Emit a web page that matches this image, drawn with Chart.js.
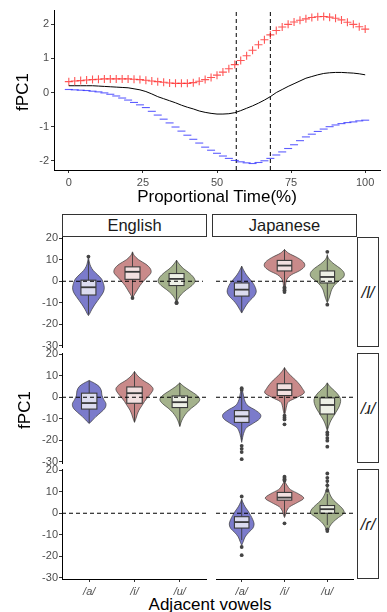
<!DOCTYPE html>
<html>
<head>
<meta charset="utf-8">
<script src="https://cdn.jsdelivr.net/npm/chart.js"></script>
<style>
  body { margin: 0; width: 387px; height: 612px; background: #fff; position: relative; overflow: hidden;
         font-family: "Liberation Sans", Arial, sans-serif; }
  canvas { position: absolute; }
  .strip { position: absolute; border: 1px solid #333; box-sizing: border-box; background: #fff;
           display: flex; align-items: center; justify-content: center; font-size: 16.5px; color: #1a1a1a; }
  .lab { position: absolute; font-size: 17px; line-height: 17px; color: #000; white-space: nowrap;
         transform: translate(-50%, -50%); }
</style>
</head>
<body>
<canvas id="top" width="387" height="200" style="left:0;top:0"></canvas>

<div class="lab" style="left:22px;top:92px;transform:translate(-50%,-50%) rotate(-90deg)">fPC1</div>
<div class="lab" style="left:217px;top:196px">Proportional Time(%)</div>

<div class="strip" style="left:62px;top:214px;width:145px;height:23px">English</div>
<div class="strip" style="left:212px;top:214px;width:145px;height:23px">Japanese</div>
<div class="strip" style="left:357px;top:237px;width:22px;height:110px;font-style:italic">/l/</div>
<div class="strip" style="left:357px;top:353px;width:22px;height:110px;font-style:italic">/ɹ/</div>
<div class="strip" style="left:357px;top:469px;width:22px;height:110px;font-style:italic">/ɾ/</div>

<div class="lab" style="left:24px;top:410px;transform:translate(-50%,-50%) rotate(-90deg)">fPC1</div>
<div class="lab" style="left:210px;top:604px">Adjacent vowels</div>

<script>
// ---------- top panel: fPC1 over proportional time ----------
const timeX = [0,2,4,6,8,10,12,14,16,18,20,22,24,26,28,30,32,34,36,38,40,42,44,46,48,50,
               52,54,56,58,60,62,64,66,68,70,72,74,76,78,80,82,84,86,88,90,92,94,96,98,100];
const meanCurve = [0.20,0.20,0.20,0.20,0.20,0.19,0.18,0.17,0.16,0.15,0.14,0.11,0.08,0.03,-0.04,-0.12,-0.18,
                   -0.24,-0.30,-0.37,-0.43,-0.48,-0.54,-0.58,-0.61,-0.63,-0.63,-0.62,-0.59,-0.53,-0.46,-0.39,
                   -0.31,-0.22,-0.12,0.00,0.09,0.18,0.26,0.34,0.42,0.47,0.52,0.56,0.58,0.59,0.59,0.58,0.57,0.55,0.52];
const plusCurve = [0.32,0.34,0.35,0.37,0.38,0.39,0.40,0.40,0.40,0.40,0.40,0.39,0.38,0.36,0.34,0.32,0.30,
                   0.28,0.27,0.27,0.27,0.29,0.33,0.38,0.44,0.51,0.60,0.70,0.82,0.94,1.08,1.24,1.40,1.55,
                   1.69,1.82,1.92,2.00,2.07,2.12,2.16,2.20,2.22,2.23,2.21,2.18,2.13,2.06,2.00,1.93,1.86];
const minusCurve = [0.09,0.08,0.07,0.06,0.04,0.02,-0.01,-0.05,-0.10,-0.16,-0.22,-0.29,-0.36,-0.44,-0.55,
                    -0.66,-0.78,-0.89,-1.01,-1.13,-1.25,-1.37,-1.48,-1.60,-1.69,-1.78,-1.86,-1.93,-1.99,
                    -2.03,-2.06,-2.08,-2.05,-2.00,-1.93,-1.83,-1.74,-1.64,-1.53,-1.41,-1.30,-1.22,-1.14,
                    -1.07,-1.00,-0.95,-0.91,-0.88,-0.86,-0.83,-0.81];
const boundaries = [56.5, 68];
const timeTicks = [0, 25, 50, 75, 100];
const fpcTicks = [-2, -1, 0, 1, 2];

// ---------- violin panels (y, half width) pairs, box stats, outliers ----------
const vowels = ["/a/", "/i/", "/u/"];
const fpcTicksBottom = [20, 10, 0, -10, -20, -30];

// English /l/
const engLShapes = [
  [[11.5,0],[9,0.02],[7,0.05],[5,0.11],[3,0.21],[1,0.3],[-1,0.34],[-3,0.36],[-5,0.34],[-7,0.28],[-9,0.21],[-11,0.14],[-13,0.08],[-15,0.03],[-16,0]],
  [[13.7,0],[12,0.04],[10,0.14],[8,0.3],[6,0.4],[4,0.42],[2,0.34],[0,0.25],[-2,0.17],[-4,0.11],[-6,0.05],[-7.8,0]],
  [[9.8,0],[8,0.06],[6,0.15],[4,0.28],[2,0.38],[0,0.42],[-2,0.35],[-4,0.22],[-6,0.11],[-8,0.04],[-10,0]]
];
const engLBoxes = [[-15.5,-6.4,-2.8,0.5,10], [-7,0.9,4.4,6.7,13.5], [-9.3,-2.0,1.1,3.6,9.8]];
const engLOutliers = [[11.5], [-7.8], [-9.8,-10.2]];

// Japanese /l/
const japLShapes = [
  [[7,0],[5,0.05],[3,0.11],[1,0.19],[-1,0.27],[-3,0.32],[-5,0.34],[-7,0.29],[-9,0.19],[-11,0.11],[-13,0.05],[-14.8,0]],
  [[14.8,0],[13,0.1],[11,0.3],[9,0.44],[7,0.47],[5,0.36],[3,0.16],[1,0.06],[-1,0.03],[-3,0.02],[-4.5,0]],
  [[12,0],[10,0.05],[8,0.16],[6,0.3],[4,0.39],[2,0.38],[0,0.26],[-2,0.16],[-4,0.1],[-6,0.07],[-8,0.04],[-10,0]]
];
const japLBoxes = [[-14.5,-6.9,-3.9,-0.8,7], [-2,4.8,7.3,9.7,14.8], [-9.5,-0.8,2.0,4.8,12.5]];
const japLOutliers = [[], [-2.8,-3.5,-4.2,-5], [13.7,-10.9]];

// English /ɹ/
const engRShapes = [
  [[7.8,0],[6.5,0.12],[5,0.22],[3,0.27],[1,0.28],[-1,0.32],[-3,0.37],[-5,0.35],[-7,0.26],[-9,0.15],[-11,0.06],[-12.2,0]],
  [[12,0],[10,0.07],[8,0.18],[6,0.33],[4,0.41],[2,0.37],[0,0.29],[-2,0.22],[-4,0.16],[-6,0.1],[-8,0.06],[-10,0.03],[-11.7,0]],
  [[6.7,0],[5,0.09],[3,0.23],[1,0.37],[-1,0.44],[-3,0.38],[-5,0.26],[-7,0.16],[-9,0.09],[-11,0.04],[-13.6,0]]
];
const engRBoxes = [[-12,-5.5,-2.7,1.9,7.8], [-11.5,-2.8,1.9,4.8,12], [-13.5,-4.8,-2.3,0.6,6.7]];
const engROutliers = [[], [], []];

// Japanese /ɹ/
const japRShapes = [
  [[4,0],[2,0.03],[0,0.05],[-2,0.08],[-4,0.15],[-6,0.32],[-8,0.44],[-10,0.42],[-12,0.28],[-14,0.12],[-16,0.06],[-18,0.03],[-21,0]],
  [[13.8,0],[12,0.06],[10,0.15],[8,0.26],[6,0.35],[4,0.42],[2,0.46],[0,0.3],[-2,0.1],[-4,0.05],[-6,0.03],[-8.6,0]],
  [[6.7,0],[5,0.06],[3,0.17],[1,0.26],[-1,0.31],[-3,0.3],[-5,0.26],[-7,0.2],[-9,0.14],[-11,0.08],[-13,0.04],[-15.6,0]]
];
const japRBoxes = [[-20,-11.7,-8.9,-6.2,2.5], [-7.5,0.8,3.4,6.3,13.8], [-15,-7.8,-3.6,-0.3,6.7]];
const japROutliers = [[3.4,4.2,-22.6,-24,-25.5,-28.8], [-8.6,-9.5,-10.3,-12.6], [-16.4,-17.5,-19,-20.2,-23]];

// Japanese /ɾ/ (no English tokens)
const japFShapes = [
  [[6.5,0],[5,0.03],[3,0.08],[1,0.15],[-1,0.21],[-3,0.26],[-5,0.29],[-7,0.26],[-9,0.16],[-11,0.08],[-13,0.04],[-15,0]],
  [[15,0],[13,0.06],[11,0.14],[9,0.33],[7,0.45],[5,0.3],[3,0.12],[1,0.05],[-1,0.02],[-2,0]],
  [[15,0],[12,0.01],[10,0.04],[8,0.08],[6,0.15],[4,0.26],[2,0.36],[0,0.39],[-2,0.26],[-4,0.14],[-6,0.06],[-8,0.02],[-8.6,0]]
];
const japFBoxes = [[-12.5,-6.9,-4.1,-1.6,6.5], [-1.5,6.1,7.3,9.7,14.5], [-5.5,0,1.9,3.6,9]];
const japFOutliers = [[7.8,-15.7,-19.5], [15.2,15.8,16.4,17,-4.7], [10.5,13,15,16.5,18.5,-7.5,-8.3]];

const violinFill = ["#7b7bcb", "#c98a8a", "#a4b28c"];
const boxFill = ["#dcdcef", "#f2e0e0", "#edf0e6"];

const tickFont = { family: "Liberation Sans", size: 11 };
const tickColor = "#4d4d4d";

function fixedTicks(values) {
  return scale => { scale.ticks = values.map(v => ({ value: v })); };
}

// ---------- top chart ----------
const xy = ys => timeX.map((x, i) => ({ x: x, y: ys[i] }));
const topMin = -2.27, topMax = 2.42;

new Chart(document.getElementById("top"), {
  type: "scatter",
  data: {
    datasets: [
      { data: xy(meanCurve), showLine: true, borderColor: "#000", borderWidth: 1, pointRadius: 0 },
      { data: xy(plusCurve), showLine: false, pointStyle: "cross", pointRadius: 4,
        borderColor: "rgba(255,30,30,0.75)", pointBorderWidth: 1.1 },
      { data: xy(minusCurve), showLine: false, pointStyle: "line", pointRadius: 4,
        borderColor: "rgba(40,40,255,0.75)", pointBorderWidth: 1.1 },
      ...boundaries.map(b => ({ data: [{ x: b, y: topMin }, { x: b, y: topMax }], showLine: true,
        borderColor: "#000", borderWidth: 1, borderDash: [4, 3], pointRadius: 0 }))
    ]
  },
  options: {
    responsive: false,
    animation: false,
    layout: { padding: { top: 10, right: 7, left: 0, bottom: 0 } },
    plugins: { legend: { display: false }, tooltip: { enabled: false } },
    scales: {
      x: {
        type: "linear", min: -5, max: 105,
        afterBuildTicks: fixedTicks(timeTicks),
        afterFit: s => { s.height = 30; },
        grid: { drawOnChartArea: false, tickLength: 3, color: "#333" },
        border: { color: "#000", width: 1 },
        ticks: { font: tickFont, color: tickColor, padding: 3, maxRotation: 0 }
      },
      y: {
        min: topMin, max: topMax,
        afterBuildTicks: fixedTicks(fpcTicks),
        afterFit: s => { s.width = 54; },
        grid: { drawOnChartArea: false, tickLength: 3, color: "#333" },
        border: { color: "#000", width: 1 },
        ticks: { font: tickFont, color: tickColor, padding: 2 }
      }
    }
  }
});

// ---------- violin drawing ----------
function smoothPath(ctx, pts, first) {
  if (first) ctx.moveTo(pts[0][0], pts[0][1]); else ctx.lineTo(pts[0][0], pts[0][1]);
  for (let k = 0; k < pts.length - 1; k++) {
    const p0 = pts[k - 1] || pts[k], p1 = pts[k], p2 = pts[k + 1], p3 = pts[k + 2] || p2;
    ctx.bezierCurveTo(p1[0] + (p2[0] - p0[0]) / 6, p1[1] + (p2[1] - p0[1]) / 6,
                      p2[0] - (p3[0] - p1[0]) / 6, p2[1] - (p3[1] - p1[1]) / 6, p2[0], p2[1]);
  }
}

function violinPlugin(shapes, boxes) {
  return {
    id: "violins",
    beforeDatasetsDraw(chart) {
      const { ctx, scales: { x, y } } = chart;
      shapes.forEach((shape, i) => {
        const cx = i + 1;
        const right = shape.map(p => [x.getPixelForValue(cx + p[1]), y.getPixelForValue(p[0])]);
        const left = shape.slice().reverse().map(p => [x.getPixelForValue(cx - p[1]), y.getPixelForValue(p[0])]);
        ctx.save();
        ctx.beginPath();
        smoothPath(ctx, right, true);
        smoothPath(ctx, left, false);
        ctx.closePath();
        ctx.fillStyle = violinFill[i];
        ctx.fill();
        ctx.strokeStyle = "#3a3a3a";
        ctx.lineWidth = 0.7;
        ctx.stroke();

        // boxplot
        const [lo, q1, med, q3, hi] = boxes[i];
        const px = x.getPixelForValue(cx);
        const bl = x.getPixelForValue(cx - 0.17), br = x.getPixelForValue(cx + 0.17);
        ctx.strokeStyle = "#3a3a3a";
        ctx.lineWidth = 0.9;
        ctx.beginPath();
        ctx.moveTo(px, y.getPixelForValue(hi));
        ctx.lineTo(px, y.getPixelForValue(lo));
        ctx.stroke();
        const top = y.getPixelForValue(q3), bot = y.getPixelForValue(q1);
        ctx.fillStyle = boxFill[i];
        ctx.fillRect(bl, top, br - bl, bot - top);
        ctx.lineWidth = 1.1;
        ctx.strokeRect(bl, top, br - bl, bot - top);
        ctx.lineWidth = 1.8;
        ctx.beginPath();
        ctx.moveTo(bl, y.getPixelForValue(med));
        ctx.lineTo(br, y.getPixelForValue(med));
        ctx.stroke();
        ctx.restore();
      });
    }
  };
}

const yMin = -30.6, yMax = 20.6;

function panel(id, left, top, showY, showX, shapes, boxes, outliers) {
  const canvas = document.createElement("canvas");
  const pad = 8;
  const w = showY ? 207 : 145;
  const h = 110 + pad * 2 + (showX ? 25 : 0);
  canvas.id = id;
  canvas.width = w;
  canvas.height = h;
  canvas.style.left = left + "px";
  canvas.style.top = (top - pad) + "px";
  document.body.appendChild(canvas);

  const outlierPoints = [];
  outliers.forEach((list, i) => list.forEach(v => outlierPoints.push({ x: i + 1, y: v })));

  new Chart(canvas, {
    type: "scatter",
    data: {
      datasets: [
        { data: [{ x: 0.4, y: 0 }, { x: 3.6, y: 0 }], showLine: true, borderColor: "#000",
          borderWidth: 1, borderDash: [4, 3], pointRadius: 0 },
        { data: outlierPoints, pointRadius: 1.9, backgroundColor: "#444", borderColor: "#444", borderWidth: 0 }
      ]
    },
    options: {
      responsive: false,
      animation: false,
      layout: { padding: { top: pad, bottom: pad, left: 0, right: 0 } },
      plugins: { legend: { display: false }, tooltip: { enabled: false } },
      scales: {
        x: {
          type: "linear", min: 0.4, max: 3.6, display: showX,
          afterBuildTicks: fixedTicks([1, 2, 3]),
          afterFit: s => { if (showX) s.height = 25; },
          grid: { drawOnChartArea: false, tickLength: 3, color: "#333" },
          border: { color: "#000", width: 1 },
          ticks: { font: { family: "Liberation Sans", size: 11, style: "italic" }, color: tickColor,
                   padding: 3, maxRotation: 0, callback: v => vowels[v - 1] }
        },
        y: {
          min: yMin, max: yMax, display: showY,
          afterBuildTicks: fixedTicks(fpcTicksBottom),
          afterFit: s => { if (showY) s.width = 62; },
          grid: { drawOnChartArea: false, tickLength: 3, color: "#333" },
          border: { color: "#000", width: 1 },
          ticks: { font: tickFont, color: tickColor, padding: 1 }
        }
      }
    },
    plugins: [violinPlugin(shapes, boxes)]
  });
}

panel("engL", 0, 237, true, false, engLShapes, engLBoxes, engLOutliers);
panel("japL", 212, 237, false, false, japLShapes, japLBoxes, japLOutliers);
panel("engR", 0, 353, true, false, engRShapes, engRBoxes, engROutliers);
panel("japR", 212, 353, false, false, japRShapes, japRBoxes, japROutliers);
panel("engF", 0, 469, true, true, [], [], []);
panel("japF", 212, 469, false, true, japFShapes, japFBoxes, japFOutliers);
</script>
</body>
</html>
